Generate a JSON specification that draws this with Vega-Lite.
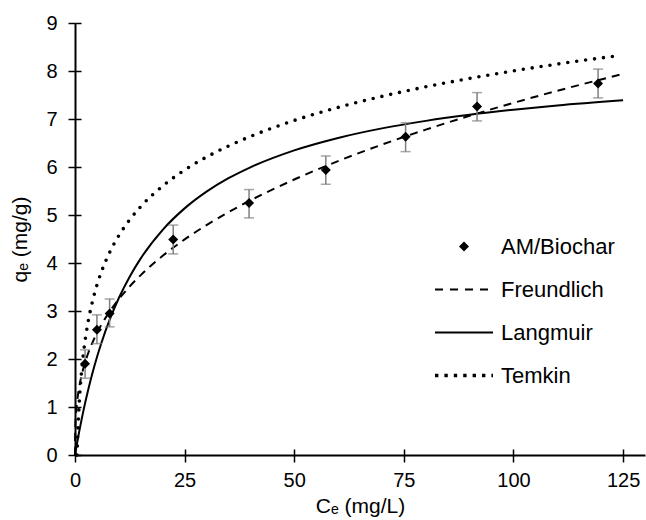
{
  "$schema": "https://vega.github.io/schema/vega-lite/v6.json",
  "width": 570,
  "height": 432,
  "autosize": {"type": "none"},
  "padding": {"left": 75, "top": 23, "right": 1, "bottom": 65},
  "background": "white",
  "config": {
    "view": {"stroke": null},
    "font": "Liberation Sans",
    "axis": {
      "grid": false,
      "labelFlush": false,
      "domainColor": "black",
      "domainWidth": 2,
      "tickColor": "black",
      "tickWidth": 1.5,
      "tickSize": 7,
      "labelFont": "Liberation Sans",
      "labelFontSize": 20,
      "labelColor": "black",
      "titleFont": "Liberation Sans",
      "titleFontSize": 21,
      "titleFontWeight": "normal",
      "titleColor": "black"
    },
    "legend": {
      "orient": "none",
      "legendX": 358,
      "legendY": 203,
      "padding": 0,
      "labelFont": "Liberation Sans",
      "labelFontSize": 22,
      "labelColor": "black",
      "labelOffset": 6,
      "labelLimit": 300,
      "rowPadding": 2,
      "clipHeight": 41,
      "symbolOpacity": 1
    }
  },
  "datasets": {
    "curves": [
      {"series": "Freundlich", "C": 0, "q": 0},
      {"series": "Freundlich", "C": 0.05, "q": 0.498},
      {"series": "Freundlich", "C": 0.1, "q": 0.636},
      {"series": "Freundlich", "C": 0.25, "q": 0.88},
      {"series": "Freundlich", "C": 0.5, "q": 1.124},
      {"series": "Freundlich", "C": 1, "q": 1.437},
      {"series": "Freundlich", "C": 1.5, "q": 1.659},
      {"series": "Freundlich", "C": 2, "q": 1.837},
      {"series": "Freundlich", "C": 3, "q": 2.12},
      {"series": "Freundlich", "C": 4, "q": 2.347},
      {"series": "Freundlich", "C": 5, "q": 2.54},
      {"series": "Freundlich", "C": 6, "q": 2.71},
      {"series": "Freundlich", "C": 8, "q": 3.0},
      {"series": "Freundlich", "C": 10, "q": 3.247},
      {"series": "Freundlich", "C": 12.5, "q": 3.514},
      {"series": "Freundlich", "C": 15, "q": 3.748},
      {"series": "Freundlich", "C": 20, "q": 4.15},
      {"series": "Freundlich", "C": 25, "q": 4.491},
      {"series": "Freundlich", "C": 30, "q": 4.79},
      {"series": "Freundlich", "C": 35, "q": 5.059},
      {"series": "Freundlich", "C": 40, "q": 5.304},
      {"series": "Freundlich", "C": 50, "q": 5.74},
      {"series": "Freundlich", "C": 60, "q": 6.123},
      {"series": "Freundlich", "C": 70, "q": 6.466},
      {"series": "Freundlich", "C": 80, "q": 6.779},
      {"series": "Freundlich", "C": 90, "q": 7.067},
      {"series": "Freundlich", "C": 100, "q": 7.336},
      {"series": "Freundlich", "C": 110, "q": 7.588},
      {"series": "Freundlich", "C": 125, "q": 7.939},
      {"series": "Langmuir", "C": 0, "q": 0},
      {"series": "Langmuir", "C": 0.25, "q": 0.133},
      {"series": "Langmuir", "C": 0.5, "q": 0.261},
      {"series": "Langmuir", "C": 1, "q": 0.507},
      {"series": "Langmuir", "C": 1.5, "q": 0.737},
      {"series": "Langmuir", "C": 2, "q": 0.955},
      {"series": "Langmuir", "C": 3, "q": 1.354},
      {"series": "Langmuir", "C": 4, "q": 1.713},
      {"series": "Langmuir", "C": 5, "q": 2.036},
      {"series": "Langmuir", "C": 6, "q": 2.329},
      {"series": "Langmuir", "C": 8, "q": 2.839},
      {"series": "Langmuir", "C": 10, "q": 3.27},
      {"series": "Langmuir", "C": 12.5, "q": 3.721},
      {"series": "Langmuir", "C": 15, "q": 4.097},
      {"series": "Langmuir", "C": 20, "q": 4.691},
      {"series": "Langmuir", "C": 25, "q": 5.138},
      {"series": "Langmuir", "C": 30, "q": 5.486},
      {"series": "Langmuir", "C": 35, "q": 5.766},
      {"series": "Langmuir", "C": 40, "q": 5.994},
      {"series": "Langmuir", "C": 50, "q": 6.347},
      {"series": "Langmuir", "C": 60, "q": 6.606},
      {"series": "Langmuir", "C": 70, "q": 6.805},
      {"series": "Langmuir", "C": 80, "q": 6.961},
      {"series": "Langmuir", "C": 90, "q": 7.088},
      {"series": "Langmuir", "C": 100, "q": 7.193},
      {"series": "Langmuir", "C": 110, "q": 7.282},
      {"series": "Langmuir", "C": 125, "q": 7.39},
      {"series": "Temkin", "C": 0.465, "q": 0},
      {"series": "Temkin", "C": 0.6, "q": 0.38},
      {"series": "Temkin", "C": 0.8, "q": 0.808},
      {"series": "Temkin", "C": 1, "q": 1.141},
      {"series": "Temkin", "C": 1.5, "q": 1.745},
      {"series": "Temkin", "C": 2, "q": 2.173},
      {"series": "Temkin", "C": 3, "q": 2.778},
      {"series": "Temkin", "C": 4, "q": 3.206},
      {"series": "Temkin", "C": 5, "q": 3.539},
      {"series": "Temkin", "C": 6, "q": 3.81},
      {"series": "Temkin", "C": 8, "q": 4.239},
      {"series": "Temkin", "C": 10, "q": 4.571},
      {"series": "Temkin", "C": 12.5, "q": 4.904},
      {"series": "Temkin", "C": 15, "q": 5.176},
      {"series": "Temkin", "C": 20, "q": 5.604},
      {"series": "Temkin", "C": 25, "q": 5.937},
      {"series": "Temkin", "C": 30, "q": 6.208},
      {"series": "Temkin", "C": 35, "q": 6.438},
      {"series": "Temkin", "C": 40, "q": 6.637},
      {"series": "Temkin", "C": 50, "q": 6.97},
      {"series": "Temkin", "C": 60, "q": 7.241},
      {"series": "Temkin", "C": 70, "q": 7.471},
      {"series": "Temkin", "C": 80, "q": 7.67},
      {"series": "Temkin", "C": 90, "q": 7.845},
      {"series": "Temkin", "C": 100, "q": 8.002},
      {"series": "Temkin", "C": 110, "q": 8.144},
      {"series": "Temkin", "C": 124, "q": 8.32}
    ],
    "obs": [
      {"series": "AM/Biochar", "C": 2.3, "q": 1.9, "lo": 1.6, "hi": 2.19},
      {"series": "AM/Biochar", "C": 5.0, "q": 2.61, "lo": 2.32, "hi": 2.92},
      {"series": "AM/Biochar", "C": 7.9, "q": 2.95, "lo": 2.67, "hi": 3.25},
      {"series": "AM/Biochar", "C": 22.4, "q": 4.49, "lo": 4.19, "hi": 4.79},
      {"series": "AM/Biochar", "C": 39.7, "q": 5.25, "lo": 4.94, "hi": 5.53},
      {"series": "AM/Biochar", "C": 57.2, "q": 5.94, "lo": 5.64, "hi": 6.23},
      {"series": "AM/Biochar", "C": 75.4, "q": 6.63, "lo": 6.32, "hi": 6.92},
      {"series": "AM/Biochar", "C": 91.7, "q": 7.26, "lo": 6.96, "hi": 7.55},
      {"series": "AM/Biochar", "C": 119.3, "q": 7.74, "lo": 7.44, "hi": 8.04}
    ]
  },
  "resolve": {"axis": {"x": "independent", "y": "independent"}},
  "layer": [
    {
      "data": {"name": "curves"},
      "transform": [{"filter": "datum.series === 'Langmuir'"}],
      "mark": {"type": "line", "color": "black", "interpolate": "monotone", "strokeWidth": 2},
      "encoding": {
        "x": {"field": "C", "type": "quantitative", "scale": {"domain": [0, 130], "nice": false},
          "axis": {"orient": "bottom", "title": "Cₑ (mg/L)", "values": [0, 25, 50, 75, 100, 125], "labelPadding": 8, "titlePadding": 5}},
        "y": {"field": "q", "type": "quantitative", "scale": {"domain": [0, 9], "nice": false},
          "axis": {"orient": "left", "title": "qₑ (mg/g)", "values": [0, 1, 2, 3, 4, 5, 6, 7, 8, 9], "labelPadding": 11, "titlePadding": 15}}
      }
    },
    {
      "data": {"name": "curves"},
      "transform": [{"filter": "datum.series === 'Freundlich'"}],
      "mark": {"type": "line", "color": "black", "interpolate": "monotone", "strokeWidth": 2, "strokeDash": [8, 6]},
      "encoding": {
        "x": {"field": "C", "type": "quantitative", "axis": null},
        "y": {"field": "q", "type": "quantitative", "axis": null}
      }
    },
    {
      "data": {"name": "curves"},
      "transform": [{"filter": "datum.series === 'Temkin'"}],
      "mark": {"type": "line", "color": "black", "interpolate": "monotone", "strokeDash": [0, 9], "strokeCap": "round", "strokeWidth": 3.6},
      "encoding": {
        "x": {"field": "C", "type": "quantitative", "axis": null},
        "y": {"field": "q", "type": "quantitative", "axis": null}
      }
    },
    {
      "data": {"name": "obs"},
      "mark": {"type": "rule", "color": "#7f7f7f", "strokeWidth": 1.5},
      "encoding": {
        "x": {"field": "C", "type": "quantitative", "axis": null},
        "y": {"field": "lo", "type": "quantitative", "axis": null},
        "y2": {"field": "hi"}
      }
    },
    {
      "data": {"name": "obs"},
      "mark": {"type": "tick", "color": "#7f7f7f", "orient": "horizontal", "size": 10, "thickness": 1.5},
      "encoding": {
        "x": {"field": "C", "type": "quantitative", "axis": null},
        "y": {"field": "lo", "type": "quantitative", "axis": null}
      }
    },
    {
      "data": {"name": "obs"},
      "mark": {"type": "tick", "color": "#7f7f7f", "orient": "horizontal", "size": 10, "thickness": 1.5},
      "encoding": {
        "x": {"field": "C", "type": "quantitative", "axis": null},
        "y": {"field": "hi", "type": "quantitative", "axis": null}
      }
    },
    {
      "data": {"name": "obs"},
      "mark": {"type": "point", "filled": true, "fill": "black", "stroke": "black", "opacity": 1},
      "encoding": {
        "x": {"field": "C", "type": "quantitative",
          "axis": {"orient": "bottom", "title": null, "labels": false, "domain": false, "tickSize": -6, "values": [0, 25, 50, 75, 100, 125]}},
        "y": {"field": "q", "type": "quantitative",
          "axis": {"orient": "left", "title": null, "labels": false, "domain": false, "tickSize": -6, "values": [0, 1, 2, 3, 4, 5, 6, 7, 8, 9]}},
        "shape": {
          "field": "series", "type": "nominal",
          "scale": {"domain": ["AM/Biochar", "Freundlich", "Langmuir", "Temkin"], "range": ["diamond", "stroke", "stroke", "stroke"]},
          "legend": {"title": null}
        },
        "size": {
          "field": "series", "type": "nominal",
          "scale": {"type": "ordinal", "domain": ["AM/Biochar", "Freundlich", "Langmuir", "Temkin"], "range": [100, 3364, 3364, 3364]},
          "legend": {"title": null}
        },
        "strokeDash": {
          "field": "series", "type": "nominal",
          "scale": {"domain": ["AM/Biochar", "Freundlich", "Langmuir", "Temkin"], "range": [[1, 0], [8, 7], [1, 0], [3.4, 6]]},
          "legend": {"title": null}
        },
        "strokeWidth": {
          "field": "series", "type": "nominal",
          "scale": {"type": "ordinal", "domain": ["AM/Biochar", "Freundlich", "Langmuir", "Temkin"], "range": [0, 2, 2, 3.4]},
          "legend": {"title": null}
        }
      }
    }
  ]
}
